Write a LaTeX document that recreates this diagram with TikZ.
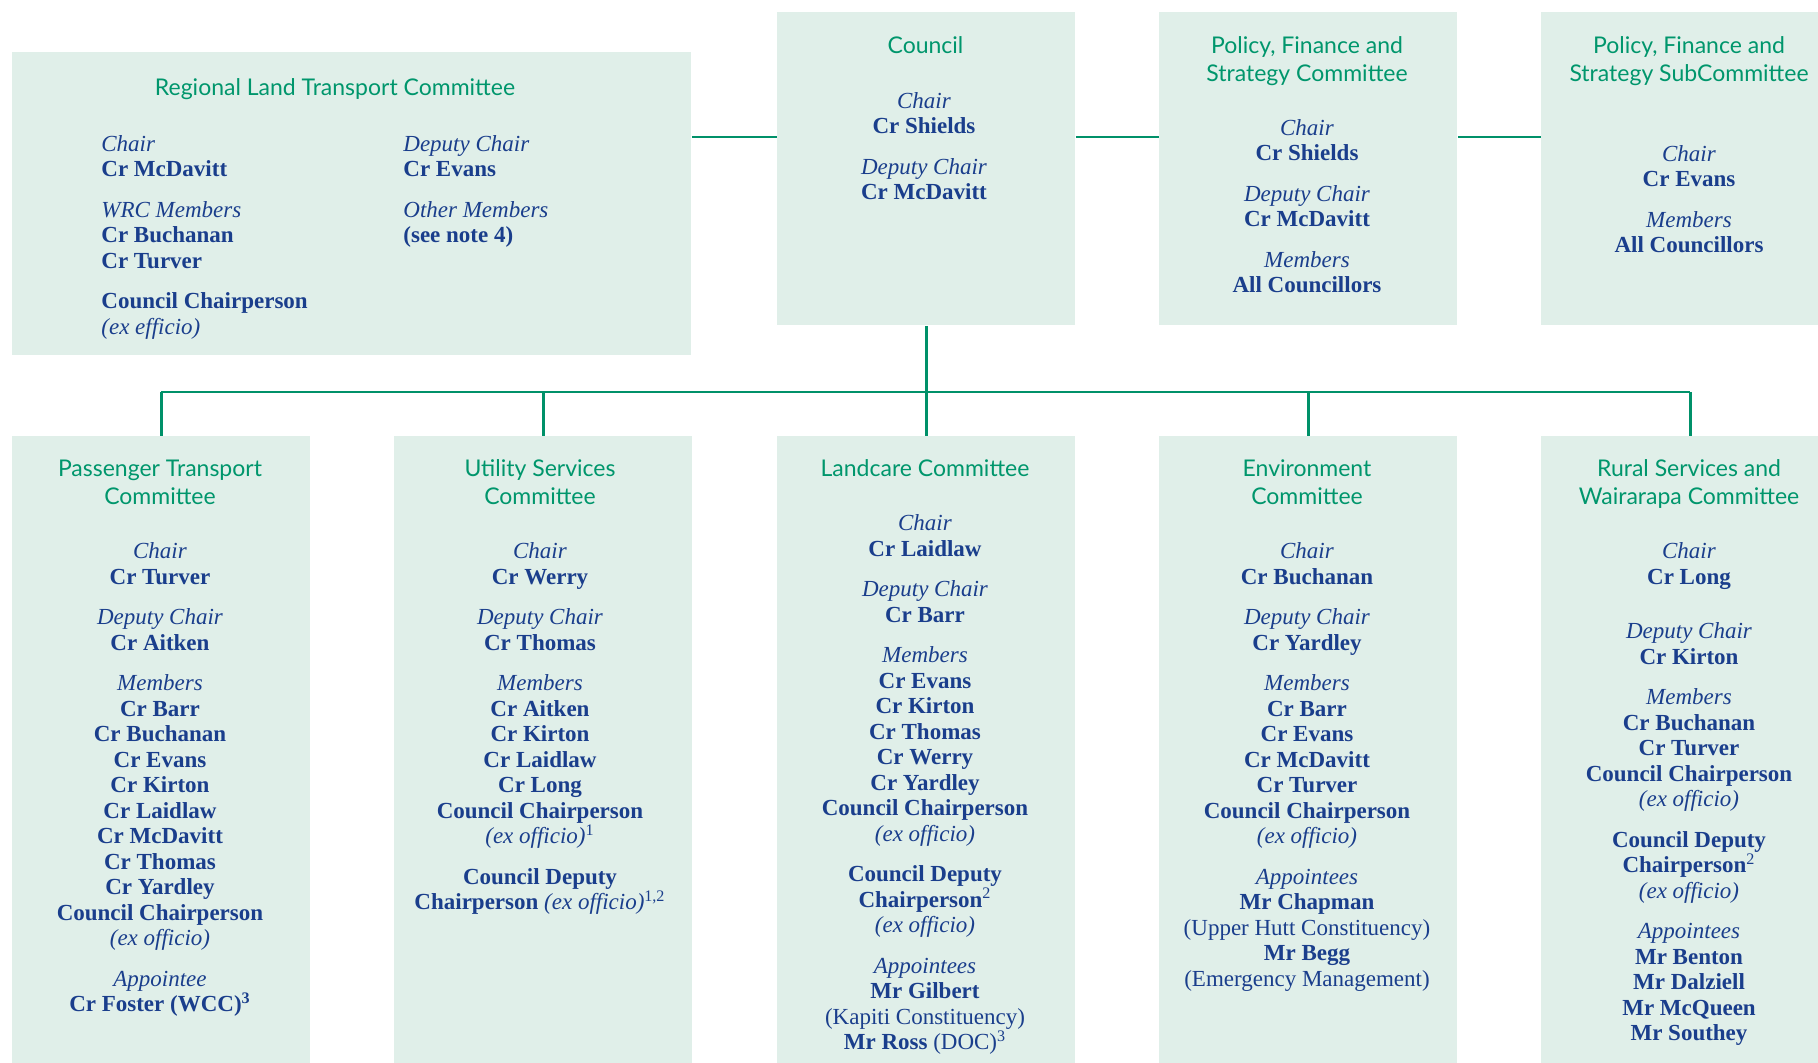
\documentclass[tikz,border=0pt]{standalone}
\usepackage{fontspec}
\setmainfont{Liberation Serif}
\newfontfamily\headfont{Lato}
\usepackage{xcolor}
\usepackage{tikz}
\usetikzlibrary{calc, positioning}

\definecolor{boxfill}{RGB}{224,239,233}
\definecolor{headgreen}{RGB}{0,150,108}
\definecolor{nameblue}{RGB}{26,62,140}
\definecolor{linkgreen}{RGB}{0,145,105}

\newcommand{\role}[1]{\textit{#1}}
\newcommand{\who}[1]{\textbf{#1}}

\tikzset{
    panel/.style={rectangle, fill=boxfill, inner sep=0pt, anchor=north west, minimum width=149pt},
    heading/.style={font=\headfont\fontsize{11.5}{14}\selectfont, text=headgreen, align=center, anchor=north, inner sep=0pt},
    roster/.style={font=\fontsize{11.5}{12.75}\selectfont, text=nameblue, align=center, anchor=north, inner sep=0pt},
    link/.style={draw=linkgreen, line width=1.2pt},
}

\begin{document}
\begin{tikzpicture}[x=0.5pt, y=-0.5pt]
    \clip (0,0) rectangle (1818,1063);

    % 1. Hàng trên: các hộp ủy ban
    \node[panel, minimum width=339.5pt, minimum height=151.5pt] (rltc) at (12,52) {};
    \node[panel, minimum height=156.5pt] (council) at (777,12) {};
    \node[panel, minimum height=156.5pt] (pfsc) at (1159,12) {};
    \node[panel, minimum height=156.5pt] (pfssc) at (1541,12) {};

    % 2. Hàng dưới
    \node[panel, minimum height=317pt] (ptc) at (12,436) {};
    \node[panel, minimum height=317pt] (usc) at (394,436) {};
    \node[panel, minimum height=317pt] (lcc) at (777,436) {};
    \node[panel, minimum height=317pt] (envc) at (1159,436) {};
    \node[panel, minimum height=317pt] (rswc) at (1541,436) {};

    % 3. Đường nối
    \coordinate (toplink) at (0,137);
    \coordinate (bus) at (0,392);
    \draw[link] (rltc.east |- toplink) -- (council.west |- toplink);
    \draw[link] (council.east |- toplink) -- (pfsc.west |- toplink);
    \draw[link] (pfsc.east |- toplink) -- (pfssc.west |- toplink);
    \draw[link] (council.south) -- (council.south |- bus);
    \draw[link] (ptc.north |- bus) -- (rswc.north |- bus);
    \foreach \c in {ptc, usc, lcc, envc, rswc}
        \draw[link] (\c.north |- bus) -- (\c.north);

    % 4. Tiêu đề
    \node[heading] (rltchead) at (335,78.5) {Regional Land Transport Committee};
    \node[heading] (councilhead) at (925.5,36.5) {Council};
    \node[heading] (pfschead) at (1307,36.5) {Policy, Finance and\\Strategy Committee};
    \node[heading] (pfsschead) at (1689,36.5) {Policy, Finance and\\Strategy SubCommittee};
    \node[heading] (ptchead) at (160,459.5) {Passenger Transport\\Committee};
    \node[heading] (uschead) at (540,459.5) {Utility Services\\Committee};
    \node[heading] (lcchead) at (925,459.5) {Landcare Committee};
    \node[heading] (envchead) at (1307,459.5) {Environment\\Committee};
    \node[heading] (rswchead) at (1689,459.5) {Rural Services and\\Wairarapa Committee};

    % 5. Thành viên
    \node[roster, align=left, anchor=north west] (rltcleft) at (101,135)
        {\role{Chair}\\\who{Cr McDavitt}\\[7.5pt]\role{WRC Members}\\\who{Cr Buchanan}\\\who{Cr Turver}\\[7.5pt]\who{Council Chairperson}\\\role{(ex efficio)}};
    \node[roster, align=left, anchor=north west] (rltcright) at (403,135)
        {\role{Deputy Chair}\\\who{Cr Evans}\\[7.5pt]\role{Other Members}\\\who{(see note 4)}};
    \node[roster] (councilbody) at (924,92)
        {\role{Chair}\\\who{Cr Shields}\\[7.5pt]\role{Deputy Chair}\\\who{Cr McDavitt}};
    \node[roster] (pfscbody) at (1307,119)
        {\role{Chair}\\\who{Cr Shields}\\[7.5pt]\role{Deputy Chair}\\\who{Cr McDavitt}\\[7.5pt]\role{Members}\\\who{All Councillors}};
    \node[roster] (pfsscbody) at (1689,145)
        {\role{Chair}\\\who{Cr Evans}\\[7.5pt]\role{Members}\\\who{All Councillors}};
    \node[roster] (ptcbody) at (160,542.5)
        {\role{Chair}\\\who{Cr Turver}\\[7.5pt]\role{Deputy Chair}\\\who{Cr Aitken}\\[7.5pt]\role{Members}\\\who{Cr Barr}\\\who{Cr Buchanan}\\\who{Cr Evans}\\\who{Cr Kirton}\\\who{Cr Laidlaw}\\\who{Cr McDavitt}\\\who{Cr Thomas}\\\who{Cr Yardley}\\\who{Council Chairperson}\\\role{(ex officio)}\\[7.5pt]\role{Appointee}\\\who{Cr Foster (WCC)\textsuperscript{3}}};
    \node[roster] (uscbody) at (540,542.5)
        {\role{Chair}\\\who{Cr Werry}\\[7.5pt]\role{Deputy Chair}\\\who{Cr Thomas}\\[7.5pt]\role{Members}\\\who{Cr Aitken}\\\who{Cr Kirton}\\\who{Cr Laidlaw}\\\who{Cr Long}\\\who{Council Chairperson}\\\role{(ex officio)}\textsuperscript{1}\\[7.5pt]\who{Council Deputy}\\\who{Chairperson} \role{(ex officio)}\textsuperscript{1,2}};
    \node[roster] (lccbody) at (925,514.5)
        {\role{Chair}\\\who{Cr Laidlaw}\\[7.5pt]\role{Deputy Chair}\\\who{Cr Barr}\\[7.5pt]\role{Members}\\\who{Cr Evans}\\\who{Cr Kirton}\\\who{Cr Thomas}\\\who{Cr Werry}\\\who{Cr Yardley}\\\who{Council Chairperson}\\\role{(ex officio)}\\[7.5pt]\who{Council Deputy}\\\who{Chairperson}\textsuperscript{2}\\\role{(ex officio)}\\[7.5pt]\role{Appointees}\\\who{Mr Gilbert}\\(Kapiti Constituency)\\\who{Mr Ross} (DOC)\textsuperscript{3}};
    \node[roster] (envcbody) at (1307,542.5)
        {\role{Chair}\\\who{Cr Buchanan}\\[7.5pt]\role{Deputy Chair}\\\who{Cr Yardley}\\[7.5pt]\role{Members}\\\who{Cr Barr}\\\who{Cr Evans}\\\who{Cr McDavitt}\\\who{Cr Turver}\\\who{Council Chairperson}\\\role{(ex officio)}\\[7.5pt]\role{Appointees}\\\who{Mr Chapman}\\(Upper Hutt Constituency)\\\who{Mr Begg}\\(Emergency Management)};
    \node[roster] (rswcbody) at (1689,542.5)
        {\role{Chair}\\\who{Cr Long}\\[14.5pt]\role{Deputy Chair}\\\who{Cr Kirton}\\[7.5pt]\role{Members}\\\who{Cr Buchanan}\\\who{Cr Turver}\\\who{Council Chairperson}\\\role{(ex officio)}\\[7.5pt]\who{Council Deputy}\\\who{Chairperson}\textsuperscript{2}\\\role{(ex officio)}\\[7.5pt]\role{Appointees}\\\who{Mr Benton}\\\who{Mr Dalziell}\\\who{Mr McQueen}\\\who{Mr Southey}};
\end{tikzpicture}
\end{document}
